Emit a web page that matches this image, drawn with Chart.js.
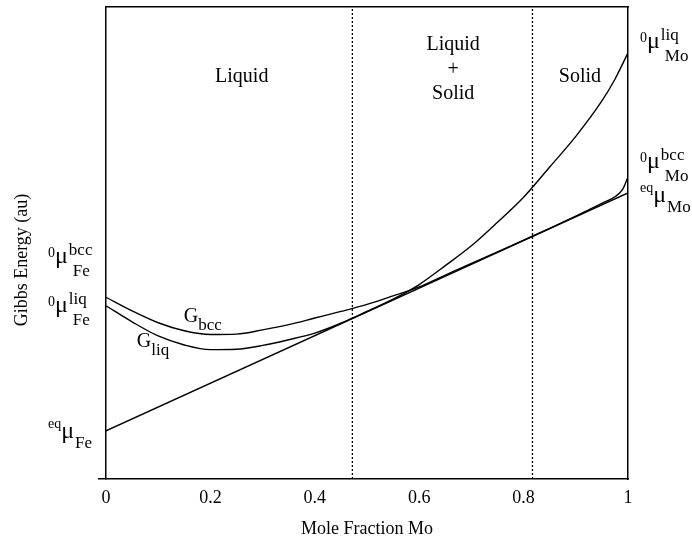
<!DOCTYPE html>
<html>
<head>
<meta charset="utf-8">
<script src="https://cdn.jsdelivr.net/npm/chart.js@4/dist/chart.umd.min.js"></script>
<style>
  html, body { margin: 0; padding: 0; background: #fff; }
  #wrap { width: 692px; height: 540px; }
</style>
</head>
<body>
<div id="wrap"><canvas id="gibbsChart"></canvas></div>
<script>
// mole fraction of Mo where both free energy curves are sampled
const moFraction = [0, 0.05, 0.1, 0.15, 0.2, 0.25, 0.3, 0.35, 0.4, 0.45, 0.5, 0.55,
                    0.6, 0.65, 0.7, 0.75, 0.8, 0.85, 0.9, 0.95, 0.975, 0.99, 1];
// Gibbs energy of the liquid phase (au)
const gLiquid = [36.7, 33.3, 30.3, 28.4, 27.4, 27.5, 28.3, 29.5, 30.9, 33.0, 35.5, 38.1,
                 41.2, 45.2, 49.4, 54.4, 59.7, 66.1, 72.6, 80.1, 84.7, 88.0, 90.3];
// Gibbs energy of the bcc solid (au)
const gBcc = [38.5, 35.6, 33.1, 31.4, 30.6, 30.7, 31.6, 32.7, 34.1, 35.5, 37.0, 38.8,
              40.7, 43.2, 45.7, 48.1, 50.6, 53.1, 55.7, 58.4, 59.8, 61.4, 64.0];
// common tangent: equilibrium chemical potentials of Fe (x=0) and Mo (x=1)
const tangentX = [0, 1];
const tangentG = [10.2, 60.6];
// liquidus and solidus compositions
const phaseBounds = [0.472, 0.817];
const xTicks = [0, 0.2, 0.4, 0.6, 0.8, 1];

const SERIF = '"Liberation Serif", "Times New Roman", serif';

function toPoints(xs, ys) {
    return xs.map((x, i) => ({ x: x, y: ys[i] }));
}

const curveStyle = {
    borderColor: '#000',
    borderWidth: 1.4,
    pointRadius: 0,
    fill: false,
    cubicInterpolationMode: 'monotone'
};

const datasets = [
    Object.assign({ label: 'G liq', data: toPoints(moFraction, gLiquid) }, curveStyle),
    Object.assign({ label: 'G bcc', data: toPoints(moFraction, gBcc) }, curveStyle),
    Object.assign({ label: 'tangent', data: toPoints(tangentX, tangentG) }, curveStyle)
];

phaseBounds.forEach(b => {
    datasets.push({
        label: 'boundary',
        data: [{ x: b, y: 0 }, { x: b, y: 100 }],
        borderColor: '#000',
        borderWidth: 1.3,
        borderDash: [2, 2],
        pointRadius: 0,
        fill: false
    });
});

// mu with a leading superscript, trailing super/subscripts
function drawMu(ctx, x, y, pre, sup, sub) {
    ctx.textAlign = 'left';
    ctx.textBaseline = 'alphabetic';
    ctx.font = '14px ' + SERIF;
    ctx.fillText(pre, x, sup ? y - 6 : y - 10);
    x += ctx.measureText(pre).width;
    ctx.font = '24px ' + SERIF;
    ctx.fillText('\u03bc', x, y);
    x += ctx.measureText('\u03bc').width + 1;
    ctx.font = '17px ' + SERIF;
    if (sup) {
        ctx.fillText(sup, x, y - 8);
        ctx.fillText(sub, x + 4, y + 13);
    } else {
        ctx.fillText(sub, x, y + 10);
    }
}

const labelPlugin = {
    id: 'phaseLabels',
    afterDatasetsDraw(chart) {
        const { ctx, scales } = chart;
        const xs = scales.x, ys = scales.y;
        ctx.save();
        ctx.fillStyle = '#000';

        // y axis title, sitting a little below the middle of the axis
        ctx.save();
        ctx.translate(22, 260);
        ctx.rotate(-Math.PI / 2);
        ctx.font = '18px ' + SERIF;
        ctx.textAlign = 'center';
        ctx.textBaseline = 'middle';
        ctx.fillText('Gibbs Energy (au)', 0, 0);
        ctx.restore();

        // phase field names
        ctx.font = '20px ' + SERIF;
        ctx.textAlign = 'center';
        ctx.textBaseline = 'middle';
        ctx.fillText('Liquid', xs.getPixelForValue(0.26), ys.getPixelForValue(85.2));
        ctx.fillText('Liquid', xs.getPixelForValue(0.665), ys.getPixelForValue(91.9));
        ctx.fillText('+', xs.getPixelForValue(0.665), ys.getPixelForValue(86.6));
        ctx.fillText('Solid', xs.getPixelForValue(0.665), ys.getPixelForValue(81.6));
        ctx.fillText('Solid', xs.getPixelForValue(0.908), ys.getPixelForValue(85.2));

        // curve names
        ctx.textAlign = 'left';
        ctx.textBaseline = 'alphabetic';
        [[0.149, 33.3, 'bcc'], [0.059, 28.0, 'liq']].forEach(([gx, gy, s]) => {
            const px = xs.getPixelForValue(gx), py = ys.getPixelForValue(gy);
            ctx.font = '20px ' + SERIF;
            ctx.fillText('G', px, py);
            const w = ctx.measureText('G').width;
            ctx.font = '17px ' + SERIF;
            ctx.fillText(s, px + w, py + 8);
        });

        // chemical potentials at the pure-component ends
        const lx = xs.left - 58, rx = xs.right + 12;
        drawMu(ctx, lx, ys.getPixelForValue(45.8), '0', 'bcc', 'Fe');
        drawMu(ctx, lx, ys.getPixelForValue(35.4), '0', 'liq', 'Fe');
        drawMu(ctx, lx, ys.getPixelForValue(8.7), 'eq', null, 'Fe');
        drawMu(ctx, rx, ys.getPixelForValue(91.3), '0', 'liq', 'Mo');
        drawMu(ctx, rx, ys.getPixelForValue(65.9), '0', 'bcc', 'Mo');
        drawMu(ctx, rx, ys.getPixelForValue(58.7), 'eq', null, 'Mo');
        ctx.restore();
    }
};

const frame = { display: true, color: '#000', width: 1.5 };

new Chart(document.getElementById('gibbsChart'), {
    type: 'line',
    data: { datasets: datasets },
    plugins: [labelPlugin],
    options: {
        responsive: true,
        maintainAspectRatio: false,
        animation: false,
        layout: { padding: { top: 7, left: 0, right: 0, bottom: 0 } },
        plugins: { legend: { display: false }, tooltip: { enabled: false } },
        scales: {
            x: {
                type: 'linear',
                position: 'bottom',
                min: 0,
                max: 1,
                afterBuildTicks: scale => {
                    scale.ticks = xTicks.map(v => ({ value: v }));
                },
                afterFit: scale => { scale.height = 61; },
                grid: { display: false, drawTicks: false },
                border: frame,
                ticks: {
                    color: '#000',
                    padding: 8,
                    font: { family: SERIF, size: 18 },
                    callback: v => String(v)
                },
                title: {
                    display: true,
                    text: 'Mole Fraction Mo',
                    color: '#000',
                    padding: 0,
                    font: { family: SERIF, size: 18 }
                }
            },
            xTop: {
                type: 'linear',
                position: 'top',
                min: 0,
                max: 1,
                afterFit: scale => { scale.height = 0; },
                grid: { display: false, drawTicks: false },
                border: frame,
                ticks: { display: false }
            },
            y: {
                type: 'linear',
                position: 'left',
                min: 0,
                max: 100,
                afterBuildTicks: scale => { scale.ticks = [{ value: 0 }]; },
                afterFit: scale => { scale.width = 106; },
                grid: { display: true, drawOnChartArea: false, drawTicks: true, tickLength: 8, color: '#000', lineWidth: 1.5 },
                border: frame,
                ticks: { display: false }
            },
            yRight: {
                type: 'linear',
                position: 'right',
                min: 0,
                max: 100,
                afterFit: scale => { scale.width = 64; },
                grid: { display: false, drawTicks: false },
                border: frame,
                ticks: { display: false }
            }
        }
    }
});
</script>
</body>
</html>
